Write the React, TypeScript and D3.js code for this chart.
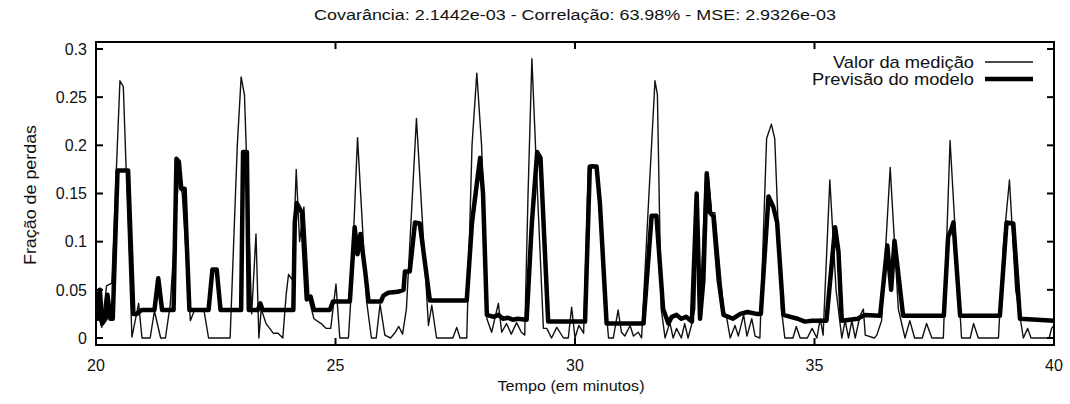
import React from "react";
import * as d3 from "d3";

// Measured loss fraction (thin line): time in minutes, value as fraction
const measuredTime = [
  20.0, 20.12, 20.22, 20.33, 20.5, 20.57, 20.75, 20.89, 20.96, 21.13, 21.22, 21.35, 21.45, 21.55, 21.72, 21.8,
  21.97, 22.05, 22.15, 22.25, 22.35, 22.8, 22.95, 23.03, 23.1, 23.25, 23.34, 23.4, 23.45, 23.55, 23.7, 23.8,
  23.9, 23.97, 24.02, 24.1, 24.18, 24.25, 24.34, 24.45, 24.55, 24.7, 24.8, 24.9, 25.01, 25.09, 25.27, 25.32,
  25.46, 25.65, 25.75, 25.85, 25.93, 26.03, 26.15, 26.25, 26.32, 26.4, 26.48, 26.69, 26.94, 27.01, 27.11, 27.45,
  27.53, 27.6, 27.74, 27.85, 27.95, 28.05, 28.16, 28.26, 28.4, 28.47, 28.57, 28.67, 28.78, 28.88, 28.95, 29.02,
  29.1, 29.2, 29.34, 29.41, 29.51, 29.62, 29.76, 29.86, 29.93, 30.0, 30.08, 30.18, 30.28, 30.38, 30.48, 30.59,
  30.7, 30.8, 30.9, 30.97, 31.04, 31.15, 31.22, 31.32, 31.39, 31.53, 31.67, 31.72, 31.8, 31.88, 31.98, 32.05,
  32.12, 32.22, 32.29, 32.36, 32.43, 32.5, 32.55, 32.62, 32.72, 32.78, 32.85, 32.92, 33.1, 33.17, 33.24, 33.34,
  33.41, 33.52, 33.59, 33.69, 33.76, 33.86, 34.0, 34.1, 34.17, 34.31, 34.38, 34.55, 34.62, 34.7, 34.85, 34.95,
  35.05, 35.12, 35.18, 35.32, 35.45, 35.57, 35.64, 35.71, 35.78, 35.85, 35.95, 36.02, 36.06, 36.25, 36.3, 36.4,
  36.58, 36.75, 36.89, 36.99, 37.09, 37.25, 37.34, 37.45, 37.69, 37.83, 37.95, 38.07, 38.25, 38.32, 38.42, 38.84,
  38.95, 39.07, 39.2, 39.36, 39.45, 39.52, 39.9, 39.95, 40.0,
];
const measuredValue = [
  0.032, 0.011, 0.054, 0.057, 0.267, 0.261, 0.001, 0.036, 0.0, 0.0, 0.028, 0.0, 0.0, 0.035, 0.165, 0.15,
  0.018, 0.028, 0.03, 0.03, 0.0, 0.0, 0.2, 0.271, 0.252, 0.025, 0.108, 0.0, 0.03, 0.015, 0.005, 0.005,
  0.0, 0.045, 0.066, 0.06, 0.175, 0.1, 0.136, 0.04, 0.02, 0.015, 0.01, 0.01, 0.056, 0.0, 0.0, 0.04,
  0.208, 0.038, 0.0, 0.0, 0.035, 0.003, 0.0, 0.006, 0.012, 0.004, 0.03, 0.228, 0.013, 0.034, 0.0, 0.0,
  0.011, 0.0, 0.0, 0.2, 0.275, 0.2, 0.02, 0.006, 0.036, 0.006, 0.015, 0.004, 0.016, 0.006, 0.003, 0.15,
  0.29, 0.17, 0.01, 0.01, 0.0, 0.011, 0.0, 0.0, 0.032, 0.0, 0.013, 0.005, 0.178, 0.18, 0.173, 0.065,
  0.0, 0.0, 0.029, 0.006, 0.002, 0.013, 0.002, 0.006, 0.0, 0.136, 0.267, 0.253, 0.03, 0.0, 0.016, 0.0,
  0.01, 0.0, 0.015, 0.0, 0.013, 0.03, 0.14, 0.04, 0.16, 0.17, 0.13, 0.13, 0.03, 0.02, 0.0, 0.013,
  0.002, 0.024, 0.002, 0.02, 0.002, 0.0, 0.207, 0.222, 0.207, 0.03, 0.0, 0.0, 0.012, 0.0, 0.0, 0.01,
  0.0, 0.02, 0.003, 0.164, 0.05, 0.0, 0.018, 0.0, 0.018, 0.0, 0.023, 0.03, 0.003, 0.0, 0.003, 0.018,
  0.177, 0.03, 0.0, 0.018, 0.0, 0.0, 0.015, 0.0, 0.0, 0.205, 0.1, 0.0, 0.0, 0.015, 0.0, 0.0,
  0.1, 0.164, 0.05, 0.0, 0.01, 0.0, 0.0, 0.01, 0.013,
];

// Model prediction (thick line)
const modelTime = [
  20.0, 20.04, 20.08, 20.13, 20.2, 20.24, 20.3, 20.35, 20.45, 20.67, 20.78, 20.85, 20.95, 21.22, 21.3, 21.38,
  21.62, 21.68, 21.73, 21.78, 21.85, 21.95, 22.35, 22.43, 22.52, 22.6, 23.03, 23.07, 23.15, 23.19, 23.38, 23.43,
  23.48, 24.12, 24.15, 24.19, 24.3, 24.4, 24.48, 24.55, 24.88, 24.95, 25.3, 25.4, 25.46, 25.52, 25.62, 25.69,
  25.95, 26.0, 26.1, 26.3, 26.42, 26.45, 26.55, 26.66, 26.76, 26.97, 27.74, 27.85, 27.95, 28.02, 28.08, 28.16,
  28.3, 28.4, 28.5, 28.6, 28.7, 28.8, 28.99, 29.1, 29.21, 29.28, 29.44, 30.21, 30.31, 30.45, 30.52, 30.66,
  31.43, 31.6, 31.7, 31.84, 31.95, 32.02, 32.12, 32.22, 32.32, 32.44, 32.54, 32.61, 32.68, 32.75, 32.82, 32.89,
  33.0, 33.1, 33.3, 33.45, 33.6, 33.79, 33.88, 34.04, 34.14, 34.22, 34.35, 34.5, 34.65, 34.8, 34.95, 35.25,
  35.43, 35.5, 35.57, 35.9, 36.05, 36.37, 36.52, 36.6, 36.67, 36.85, 37.7, 37.79, 37.86, 37.9, 38.04, 38.87,
  39.01, 39.15, 39.29, 40.0,
];
const modelValue = [
  0.048, 0.02, 0.05, 0.015, 0.02, 0.045, 0.02, 0.02, 0.174, 0.174, 0.025, 0.025, 0.029, 0.029, 0.062, 0.029,
  0.029, 0.186, 0.183, 0.155, 0.155, 0.029, 0.029, 0.071, 0.071, 0.029, 0.029, 0.193, 0.193, 0.029, 0.029, 0.036,
  0.029, 0.029, 0.12, 0.14, 0.13, 0.04, 0.043, 0.029, 0.029, 0.038, 0.038, 0.115, 0.087, 0.108, 0.069, 0.038,
  0.038, 0.044, 0.047, 0.048, 0.05, 0.069, 0.069, 0.12, 0.119, 0.039, 0.039, 0.12, 0.16, 0.187, 0.15, 0.024,
  0.022, 0.024, 0.02, 0.021, 0.019, 0.02, 0.019, 0.12, 0.193, 0.187, 0.017, 0.017, 0.178, 0.178, 0.14, 0.015,
  0.015, 0.127, 0.127, 0.03, 0.015, 0.022, 0.024, 0.02, 0.022, 0.017, 0.15, 0.02, 0.06, 0.171, 0.13, 0.126,
  0.06, 0.024, 0.02, 0.025, 0.027, 0.025, 0.025, 0.147, 0.136, 0.12, 0.024, 0.022, 0.02, 0.017, 0.018, 0.018,
  0.115, 0.09, 0.018, 0.02, 0.024, 0.023, 0.096, 0.05, 0.101, 0.023, 0.023, 0.105, 0.113, 0.12, 0.023, 0.023,
  0.12, 0.119, 0.02, 0.018,
];

const xTicks = [20, 25, 30, 35, 40];
const yTicks = [0, 0.05, 0.1, 0.15, 0.2, 0.25, 0.3];
const yTickLabels = ["0", "0.05", "0.1", "0.15", "0.2", "0.25", "0.3"];

const titleText = "Covarância: 2.1442e-03 - Correlação: 63.98% - MSE: 2.9326e-03";
const legendLabels = ["Valor da medição", "Previsão do modelo"];

const W = 1070;
const H = 404;
const plot = { left: 96, right: 1054, top: 42, bottom: 345 };
const FONT = "'Liberation Sans', Arial, sans-serif";

export default function App() {
  const x = d3.scaleLinear().domain([20, 40]).range([plot.left, plot.right]);
  const y = d3.scaleLinear().domain([0, 0.3]).range([338, 49]);

  const line = d3
    .line<[number, number]>()
    .x((d) => x(d[0]))
    .y((d) => y(d[1]));

  const measured = measuredTime.map((t, i) => [t, measuredValue[i]] as [number, number]);
  const model = modelTime.map((t, i) => [t, modelValue[i]] as [number, number]);

  const tickLen = 7;

  return (
    <div style={{ position: "absolute", left: 0, top: 0 }}>
      <svg width={W} height={H} style={{ display: "block", background: "#fff" }}>
        <defs>
          <clipPath id="plot-clip">
            <rect x={plot.left} y={plot.top} width={plot.right - plot.left} height={plot.bottom - plot.top} />
          </clipPath>
        </defs>

        <text
          x={575}
          y={20}
          textAnchor="middle"
          fontFamily={FONT}
          fontSize={15.5}
          fill="#111"
          textLength={522}
          lengthAdjust="spacingAndGlyphs"
        >
          {titleText}
        </text>

        <g clipPath="url(#plot-clip)" fill="none" strokeLinejoin="round">
          <path d={line(measured) ?? ""} stroke="#111" strokeWidth={1.4} />
          <path d={line(model) ?? ""} stroke="#000" strokeWidth={4.5} />
        </g>

        {/* frame */}
        <rect
          x={plot.left}
          y={plot.top}
          width={plot.right - plot.left}
          height={plot.bottom - plot.top}
          fill="none"
          stroke="#000"
          strokeWidth={2}
        />

        {/* y ticks, mirrored on the right */}
        {yTicks.map((v, i) => (
          <g key={"y" + v}>
            <line x1={plot.left} x2={plot.left + tickLen} y1={y(v)} y2={y(v)} stroke="#000" strokeWidth={2} />
            <line x1={plot.right} x2={plot.right - tickLen} y1={y(v)} y2={y(v)} stroke="#000" strokeWidth={2} />
            <text
              x={plot.left - 9}
              y={y(v)}
              dy="0.36em"
              textAnchor="end"
              fontFamily={FONT}
              fontSize={16}
              fill="#111"
            >
              {yTickLabels[i]}
            </text>
          </g>
        ))}

        {/* x ticks, mirrored on top */}
        {xTicks.map((t) => (
          <g key={"x" + t}>
            <line x1={x(t)} x2={x(t)} y1={plot.bottom} y2={plot.bottom - tickLen} stroke="#000" strokeWidth={2} />
            <line x1={x(t)} x2={x(t)} y1={plot.top} y2={plot.top + tickLen} stroke="#000" strokeWidth={2} />
            <text x={x(t)} y={371} textAnchor="middle" fontFamily={FONT} fontSize={16} fill="#111">
              {t}
            </text>
          </g>
        ))}

        <text
          x={571}
          y={391}
          textAnchor="middle"
          fontFamily={FONT}
          fontSize={15.5}
          fill="#111"
          textLength={147}
          lengthAdjust="spacingAndGlyphs"
        >
          Tempo (em minutos)
        </text>
        <text
          transform={`translate(36,195) rotate(-90)`}
          textAnchor="middle"
          fontFamily={FONT}
          fontSize={16.5}
          fill="#111"
          textLength={140}
          lengthAdjust="spacingAndGlyphs"
        >
          Fração de perdas
        </text>

        {/* legend */}
        <g fontFamily={FONT} fontSize={17} fill="#111">
          <text x={974} y={68} textAnchor="end" textLength={141} lengthAdjust="spacingAndGlyphs">
            {legendLabels[0]}
          </text>
          <line x1={985} x2={1033} y1={62} y2={62} stroke="#111" strokeWidth={1.4} />
          <text x={974} y={85} textAnchor="end" textLength={162} lengthAdjust="spacingAndGlyphs">
            {legendLabels[1]}
          </text>
          <line x1={985} x2={1033} y1={79} y2={79} stroke="#000" strokeWidth={4.5} />
        </g>
      </svg>
    </div>
  );
}
